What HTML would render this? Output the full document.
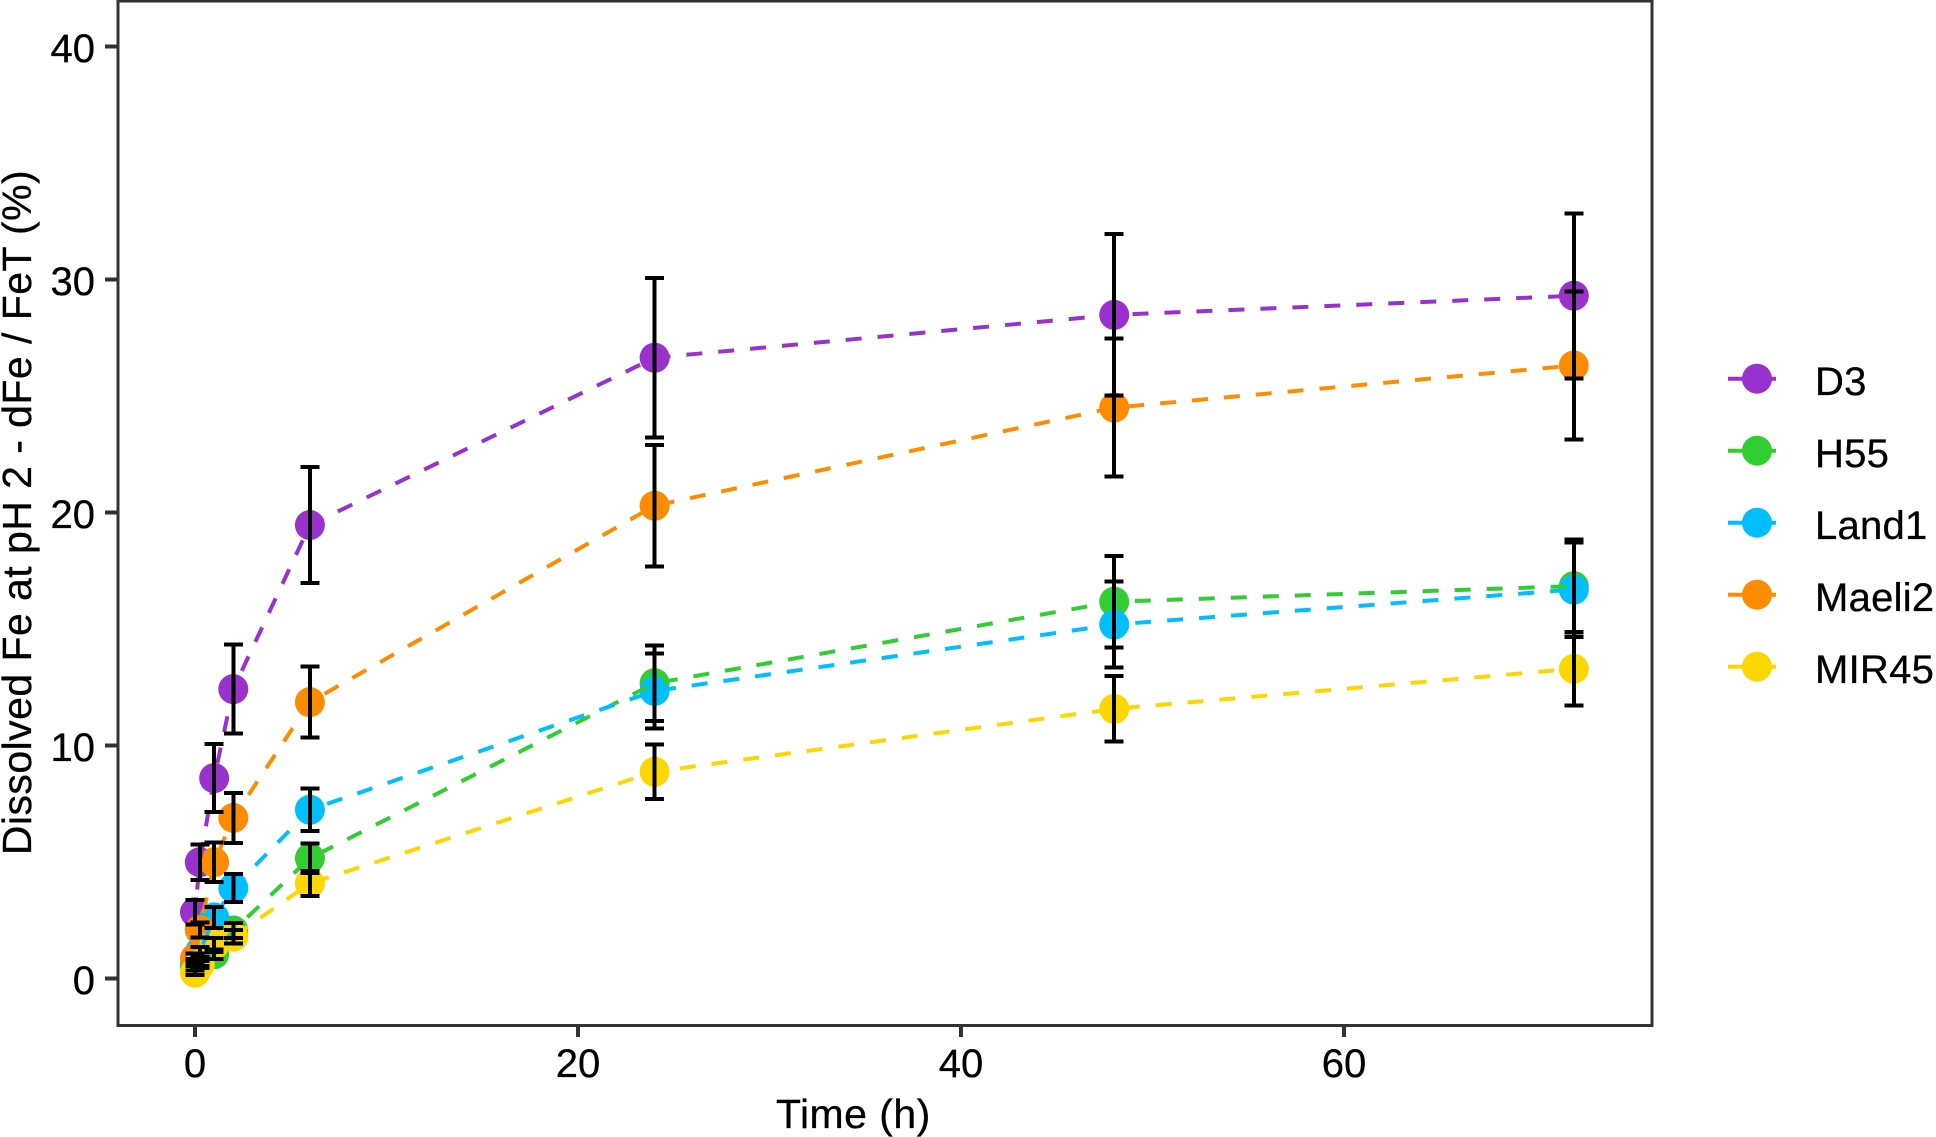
<!DOCTYPE html>
<html>
<head>
<meta charset="utf-8">
<title>Dissolved Fe over time</title>
<style>
html,body{margin:0;padding:0;background:#fff;}
svg{display:block;}
text{font-family:"Liberation Sans",Arial,sans-serif;font-size:40px;fill:#000;stroke:#000;stroke-width:0.3px;}
.axis-title{font-size:41px;letter-spacing:0.45px;}
.legend-label{letter-spacing:0.25px;}
</style>
</head>
<body>
<svg id="chart" width="1936" height="1137" viewBox="0 0 1936 1137" xmlns="http://www.w3.org/2000/svg">
  <rect x="0" y="0" width="1936" height="1137" fill="#fff"/>
  <g id="points"></g>
  <g id="lines"></g>
  <g id="errors"></g>
  <rect x="118" y="1" width="1534" height="1024.5" fill="none" stroke="#333" stroke-width="3" shape-rendering="crispEdges"/>
  <g id="x-axis"></g>
  <g id="y-axis"></g>
  <text class="axis-title" x="776" y="1128">Time (h)</text>
  <text class="axis-title" text-anchor="middle" transform="translate(31,512.5) rotate(-90)">Dissolved Fe at pH 2 - dFe / FeT (%)</text>
  <g id="legend"></g>
</svg>
<script>
const times = [0, 0.25, 1, 2, 6, 24, 48, 72];
const xTicks = [0, 20, 40, 60];
const yTicks = [0, 10, 20, 30, 40];
const seriesNames = ['D3', 'H55', 'Land1', 'Maeli2', 'MIR45'];
const seriesColors = ['#9932CC', '#32CD32', '#00BFFF', '#FF8C00', '#FFD700'];

const d3Values = [2.85, 5.0, 8.61, 12.43, 19.47, 26.65, 28.49, 29.31];
const h55Values = [0.5, 0.75, 1.05, 2.07, 5.17, 12.68, 16.18, 16.85];
const land1Values = [0.7, 1.15, 2.63, 3.89, 7.25, 12.35, 15.2, 16.7];
const maeli2Values = [0.88, 2.09, 5.0, 6.9, 11.87, 20.3, 24.51, 26.32];
const mir45Values = [0.26, 0.6, 1.45, 1.8, 4.09, 8.88, 11.58, 13.3];

const d3Errors = [0.52, 0.77, 1.46, 1.91, 2.49, 3.43, 3.47, 3.54];
const h55Errors = [0.15, 0.2, 0.2, 0.33, 0.64, 1.62, 1.97, 2.0];
const land1Errors = [0.15, 0.2, 0.45, 0.6, 0.92, 1.61, 1.85, 2.03];
const maeli2Errors = [0.2, 0.33, 0.84, 1.07, 1.52, 2.6, 2.96, 3.18];
const mir45Errors = [0.1, 0.15, 0.3, 0.28, 0.54, 1.17, 1.41, 1.58];

const allValues = [d3Values, h55Values, land1Values, maeli2Values, mir45Values];
const allErrors = [d3Errors, h55Errors, land1Errors, maeli2Errors, mir45Errors];

const NS = 'http://www.w3.org/2000/svg';
function xScale(t) { return 195 + t * 19.15; }
function yScale(v) { return 978.7 - v * 23.3; }
function dashPhase(s) { return [9.2, 22.7, 12.4, 18.2, 8.3][s]; }
function make(tag, attrs, parent) {
  const el = document.createElementNS(NS, tag);
  for (const k in attrs) el.setAttribute(k, attrs[k]);
  parent.appendChild(el);
  return el;
}

const pointsG = document.getElementById('points');
const linesG = document.getElementById('lines');
const errorsG = document.getElementById('errors');
const xAxisG = document.getElementById('x-axis');
const yAxisG = document.getElementById('y-axis');
const legendG = document.getElementById('legend');

seriesNames.forEach(function (name, s) {
  const key = name.toLowerCase();
  const values = allValues[s];
  const color = seriesColors[s];
  values.forEach(function (v, i) {
    const dot = make('circle', {cx: xScale(times[i]), cy: yScale(v), r: 15, fill: color}, pointsG);
    
    
  });
});

seriesNames.forEach(function (name, s) {
  const key = name.toLowerCase();
  const pts = allValues[s].map(function (v, i) { return xScale(times[i]) + ',' + yScale(v); }).join(' ');
  const line = make('polyline', {points: pts, fill: 'none', stroke: seriesColors[s], 'stroke-width': 4, 'stroke-dasharray': '16 16', 'stroke-dashoffset': dashPhase(s)}, linesG);
  
  
});

seriesNames.forEach(function (name, s) {
  const key = name.toLowerCase();
  allValues[s].forEach(function (v, i) {
    const x = xScale(times[i]);
    const top = yScale(v + allErrors[s][i]);
    const bottom = yScale(v - allErrors[s][i]);
    const d = 'M' + x + ' ' + top + 'V' + bottom + 'M' + (x - 9.5) + ' ' + top + 'H' + (x + 9.5) + 'M' + (x - 9.5) + ' ' + bottom + 'H' + (x + 9.5);
    const bar = make('path', {d: d, fill: 'none', stroke: '#000', 'stroke-width': 4, 'shape-rendering': 'crispEdges'}, errorsG);
    
    
  });
});

xTicks.forEach(function (t) {
  const x = xScale(t);
  const tick = make('line', {x1: x, x2: x, y1: 1026, y2: 1037, stroke: '#333', 'stroke-width': 4, 'shape-rendering': 'crispEdges'}, xAxisG);
  
  
  const label = make('text', {x: x, y: 1077, 'text-anchor': 'middle'}, xAxisG);
  label.textContent = String(t);
  
  
});

yTicks.forEach(function (v) {
  const y = yScale(v);
  const tick = make('line', {x1: 105, x2: 117, y1: y, y2: y, stroke: '#333', 'stroke-width': 4, 'shape-rendering': 'crispEdges'}, yAxisG);
  
  
  const label = make('text', {x: 95, y: y + 15.5, 'text-anchor': 'end'}, yAxisG);
  label.textContent = String(v);
  
  
});

seriesNames.forEach(function (name, s) {
  const key = name.toLowerCase();
  const y = 378.7 + s * 72;
  const entry = make('g', {}, legendG);
  
  
  const dot = make('circle', {cx: 1757, cy: y, r: 15, fill: seriesColors[s]}, entry);
  
  
  const line = make('line', {x1: 1728, x2: 1776, y1: y, y2: y, stroke: seriesColors[s], 'stroke-width': 4, 'stroke-dasharray': '16 16'}, entry);
  
  
  const label = make('text', {x: 1815, y: y + 16.3, 'class': 'legend-label'}, entry);
  label.textContent = name;
  
  
});
</script>
</body>
</html>
